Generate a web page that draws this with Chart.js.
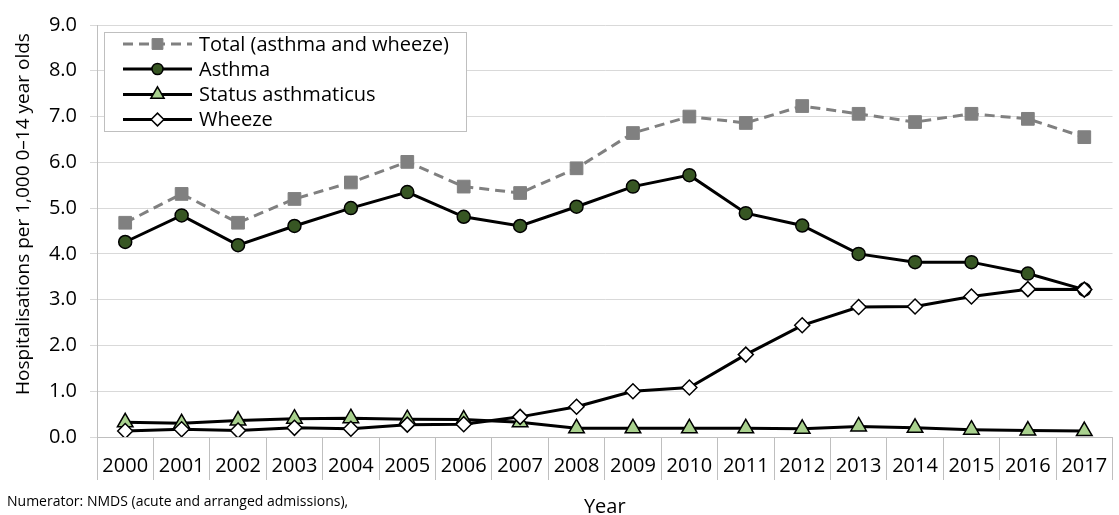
<!DOCTYPE html>
<html>
<head>
<meta charset="utf-8">
<script src="https://cdn.jsdelivr.net/npm/chart.js@4.4.1/dist/chart.umd.min.js"></script>
<style>
  html, body { margin: 0; padding: 0; background: #fff; overflow: hidden; }
  #wrap { position: relative; width: 1123px; height: 515px; }
</style>
</head>
<body>
<div id="wrap"><canvas id="chart"></canvas></div>
<script>
// values
const years = ['2000', '2001', '2002', '2003', '2004', '2005', '2006', '2007', '2008',
               '2009', '2010', '2011', '2012', '2013', '2014', '2015', '2016', '2017'];
const total   = [4.68, 5.31, 4.68, 5.20, 5.56, 6.01, 5.47, 5.33, 5.87, 6.64, 7.00, 6.86, 7.23, 7.06, 6.88, 7.06, 6.95, 6.55];
const asthma  = [4.26, 4.84, 4.19, 4.61, 5.00, 5.35, 4.81, 4.61, 5.03, 5.47, 5.72, 4.89, 4.62, 4.00, 3.82, 3.82, 3.57, 3.22];
const status  = [0.32, 0.30, 0.36, 0.40, 0.41, 0.39, 0.38, 0.32, 0.19, 0.19, 0.19, 0.19, 0.18, 0.23, 0.20, 0.16, 0.14, 0.13];
const wheeze  = [0.13, 0.17, 0.14, 0.20, 0.18, 0.27, 0.28, 0.44, 0.66, 1.00, 1.08, 1.80, 2.44, 2.84, 2.85, 3.07, 3.23, 3.22];
const yTicks  = [0, 1, 2, 3, 4, 5, 6, 7, 8, 9];

const FONT = '"Open Sans", sans-serif';
const yTitle = 'Hospitalisations per 1,000 0\u201314 year olds';
const footnote = 'Numerator: NMDS (acute and arranged admissions),';

const datasets = [
  {
    label: 'Total (asthma and wheeze)', data: total, order: 3,
    borderColor: '#808080', borderWidth: 3, borderDash: [10, 6],
    pointStyle: 'rect', pointRadius: 9, pointBackgroundColor: '#808080',
    pointBorderColor: '#808080', pointBorderWidth: 1
  },
  {
    label: 'Asthma', data: asthma, order: 2,
    borderColor: '#000', borderWidth: 3,
    pointStyle: 'circle', pointRadius: 6.5, pointBackgroundColor: '#375623',
    pointBorderColor: '#000', pointBorderWidth: 1.5
  },
  {
    label: 'Status asthmaticus', data: status, order: 1,
    borderColor: '#000', borderWidth: 3,
    pointStyle: 'triangle', pointRadius: 9, pointBackgroundColor: '#a9d18e',
    pointBorderColor: '#000', pointBorderWidth: 1.5
  },
  {
    label: 'Wheeze', data: wheeze, order: 0,
    borderColor: '#000', borderWidth: 3,
    pointStyle: 'rectRot', pointRadius: 7.5, pointBackgroundColor: '#fff',
    pointBorderColor: '#000', pointBorderWidth: 1.5
  }
];

// boxed legend inside the plot, plus rotated y title and footnote
const extras = {
  id: 'extras',
  afterDraw(chart) {
    const ctx = chart.ctx;
    ctx.save();

    // legend box
    ctx.fillStyle = '#fff';
    ctx.strokeStyle = '#bfbfbf';
    ctx.lineWidth = 1;
    ctx.fillRect(104.5, 32.5, 362, 99);
    ctx.strokeRect(104.5, 32.5, 362, 99);

    const rows = [44, 69, 94.5, 119.5];
    datasets.forEach((ds, i) => {
      const y = rows[i];
      ctx.beginPath();
      ctx.setLineDash(ds.borderDash || []);
      ctx.strokeStyle = ds.borderColor;
      ctx.lineWidth = ds.borderWidth;
      ctx.moveTo(123, y);
      ctx.lineTo(192, y);
      ctx.stroke();
      ctx.setLineDash([]);
      ctx.fillStyle = ds.pointBackgroundColor;
      ctx.strokeStyle = ds.pointBorderColor;
      ctx.lineWidth = ds.pointBorderWidth;
      Chart.helpers.drawPoint(ctx, {
        pointStyle: ds.pointStyle, radius: ds.pointRadius * 0.85,
        rotation: 0, borderWidth: ds.pointBorderWidth
      }, 157.5, y);
      ctx.fillStyle = '#000';
      ctx.font = '20px ' + FONT;
      ctx.textAlign = 'left';
      ctx.textBaseline = 'middle';
      ctx.fillText(ds.label, 199, y + 1);
    });

    // y axis title
    ctx.save();
    ctx.translate(24, 214);
    ctx.rotate(-Math.PI / 2);
    ctx.font = '19px ' + FONT;
    ctx.textAlign = 'center';
    ctx.textBaseline = 'middle';
    ctx.fillStyle = '#000';
    ctx.fillText(yTitle, 0, 0);
    ctx.restore();

    // source note
    ctx.font = '14px ' + FONT;
    ctx.textAlign = 'left';
    ctx.textBaseline = 'middle';
    ctx.fillStyle = '#000';
    ctx.fillText(footnote, 7, 502);

    ctx.restore();
  }
};

new Chart(document.getElementById('chart'), {
  type: 'line',
  data: { labels: years, datasets: datasets },
  plugins: [extras],
  options: {
    responsive: true,
    maintainAspectRatio: false,
    animation: false,
    devicePixelRatio: 1,
    layout: { padding: { left: 0, right: 1, top: 21, bottom: 0 } },
    elements: { line: { tension: 0 } },
    plugins: { legend: { display: false }, tooltip: { enabled: false } },
    scales: {
      x: {
        offset: true,
        grid: {
          display: true, drawOnChartArea: false, drawTicks: true,
          tickLength: 43, color: '#bfbfbf', offset: true
        },
        border: { display: true, color: '#bfbfbf', width: 1 },
        ticks: {
          color: '#000', font: { family: FONT, size: 20 },
          padding: -26, maxRotation: 0, autoSkip: false
        },
        title: {
          display: true, text: 'Year', color: '#000',
          font: { family: FONT, size: 20, lineHeight: 1 },
          padding: { top: 0, bottom: -2 }
        },
        afterFit(scale) { scale.height = 78; }
      },
      y: {
        min: 0, max: 9,
        afterBuildTicks(scale) { scale.ticks = yTicks.map(v => ({ value: v })); },
        grid: { color: '#d9d9d9', tickLength: 7, drawTicks: true },
        border: { display: true, color: '#bfbfbf', width: 1 },
        ticks: {
          color: '#000', font: { family: FONT, size: 20 }, padding: 13,
          callback: v => v.toFixed(1)
        },
        afterFit(scale) { scale.width = 97; }
      }
    }
  }
});
</script>
</body>
</html>
